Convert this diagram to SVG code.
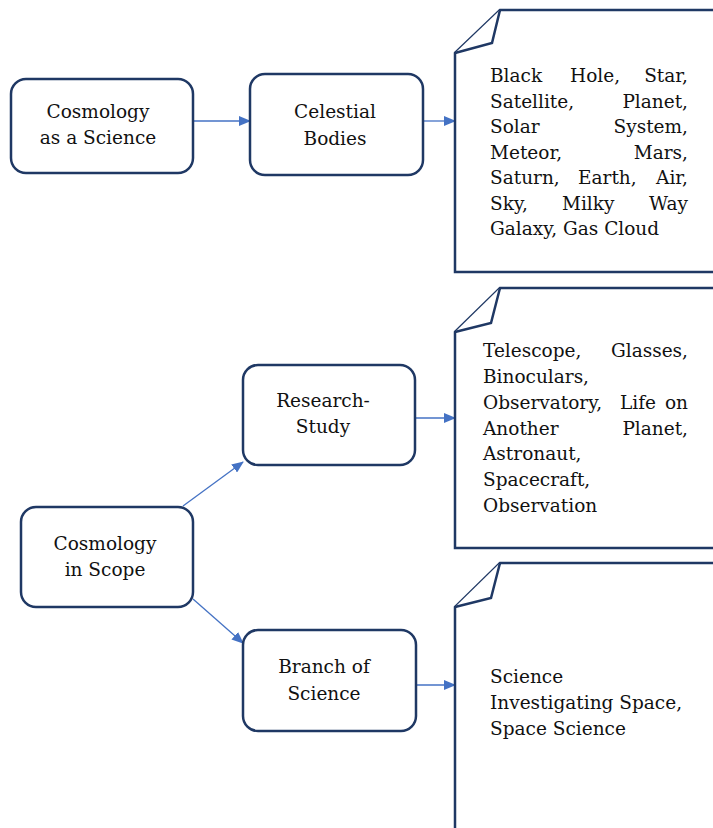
<svg xmlns="http://www.w3.org/2000/svg" width="713" height="828" viewBox="0 0 713 828">
<style>
.box{fill:#fff;stroke:#1f3864;stroke-width:2.5}
.note{fill:#fff;stroke:#1f3864;stroke-width:2.5;stroke-linejoin:miter}
.t{font-family:"DejaVu Serif","Liberation Serif",serif;font-size:18.5px;fill:#111}
.c{text-anchor:middle}
.e{text-anchor:end}
.arr{stroke:#4472c4;stroke-width:1.3;fill:none;marker-end:url(#ah)}
</style>
<defs>
<marker id="ah" markerWidth="12" markerHeight="10" refX="11" refY="5" orient="auto" markerUnits="userSpaceOnUse">
<path d="M0,0 L12,5 L0,10 Z" fill="#4472c4"/>
</marker>
</defs>
<rect width="713" height="828" fill="#fff"/>
<g id="connectors">
<line class="arr" x1="193" y1="121" x2="250" y2="121"/>
<line class="arr" x1="423" y1="121" x2="455" y2="121"/>
<line class="arr" x1="183" y1="506" x2="243" y2="462"/>
<line class="arr" x1="193" y1="599" x2="243" y2="643"/>
<line class="arr" x1="415" y1="418" x2="455" y2="418"/>
<line class="arr" x1="416" y1="685" x2="455" y2="685"/>
</g>
<g id="n1">
<rect class="box" x="11" y="79" width="182" height="94" rx="15"/>
<text class="t c" x="98" y="118">Cosmology</text>
<text class="t c" x="98" y="144">as a Science</text>
</g>
<g id="n2">
<rect class="box" x="250" y="74" width="173" height="101" rx="15"/>
<text class="t c" x="335" y="118">Celestial</text>
<text class="t c" x="335" y="145">Bodies</text>
</g>
<g id="n3">
<path class="note" d="M455,53 L500,10 L716,10 L716,272 L455,272 Z"/>
<path class="note" d="M500,10 L492,43 L455,53"/>
<text class="t"><tspan x="490" y="82">Black</tspan><tspan x="570" y="82">Hole,</tspan><tspan class="e" x="688" y="82">Star,</tspan></text>
<text class="t"><tspan x="490" y="107.5">Satellite,</tspan><tspan class="e" x="688" y="107.5">Planet,</tspan></text>
<text class="t"><tspan x="490" y="133">Solar</tspan><tspan class="e" x="688" y="133">System,</tspan></text>
<text class="t"><tspan x="490" y="158.5">Meteor,</tspan><tspan class="e" x="688" y="158.5">Mars,</tspan></text>
<text class="t"><tspan x="490" y="184">Saturn,</tspan><tspan x="578" y="184">Earth,</tspan><tspan class="e" x="688" y="184">Air,</tspan></text>
<text class="t"><tspan x="490" y="209.5">Sky,</tspan><tspan x="562" y="209.5">Milky</tspan><tspan class="e" x="688" y="209.5">Way</tspan></text>
<text class="t" x="490" y="235">Galaxy, Gas Cloud</text>
</g>
<g id="n4">
<rect class="box" x="21" y="507" width="172" height="100" rx="15"/>
<text class="t c" x="105" y="550">Cosmology</text>
<text class="t c" x="105" y="576">in Scope</text>
</g>
<g id="n5">
<rect class="box" x="243" y="365" width="172" height="100" rx="15"/>
<text class="t c" x="323" y="407">Research-</text>
<text class="t c" x="323" y="433">Study</text>
</g>
<g id="n6">
<rect class="box" x="243" y="630" width="173" height="101" rx="15"/>
<text class="t c" x="324" y="673">Branch of</text>
<text class="t c" x="324" y="700">Science</text>
</g>
<g id="n7">
<path class="note" d="M455,332 L500,288 L716,288 L716,548 L455,548 Z"/>
<path class="note" d="M500,288 L491,323 L455,332"/>
<text class="t"><tspan x="483" y="357">Telescope,</tspan><tspan class="e" x="688" y="357">Glasses,</tspan></text>
<text class="t" x="483" y="383">Binoculars,</text>
<text class="t"><tspan x="483" y="409">Observatory,</tspan><tspan x="620" y="409">Life</tspan><tspan class="e" x="688" y="409">on</tspan></text>
<text class="t"><tspan x="483" y="434.5">Another</tspan><tspan class="e" x="688" y="434.5">Planet,</tspan></text>
<text class="t" x="483" y="460">Astronaut,</text>
<text class="t" x="483" y="486">Spacecraft,</text>
<text class="t" x="483" y="512">Observation</text>
</g>
<g id="n8">
<path class="note" d="M455,832 L455,607 L500,563 L716,563"/>
<path class="note" d="M500,563 L491,598 L455,607"/>
<text class="t" x="490" y="683">Science</text>
<text class="t" x="490" y="709">Investigating Space,</text>
<text class="t" x="490" y="735">Space Science</text>
</g>
</svg>
